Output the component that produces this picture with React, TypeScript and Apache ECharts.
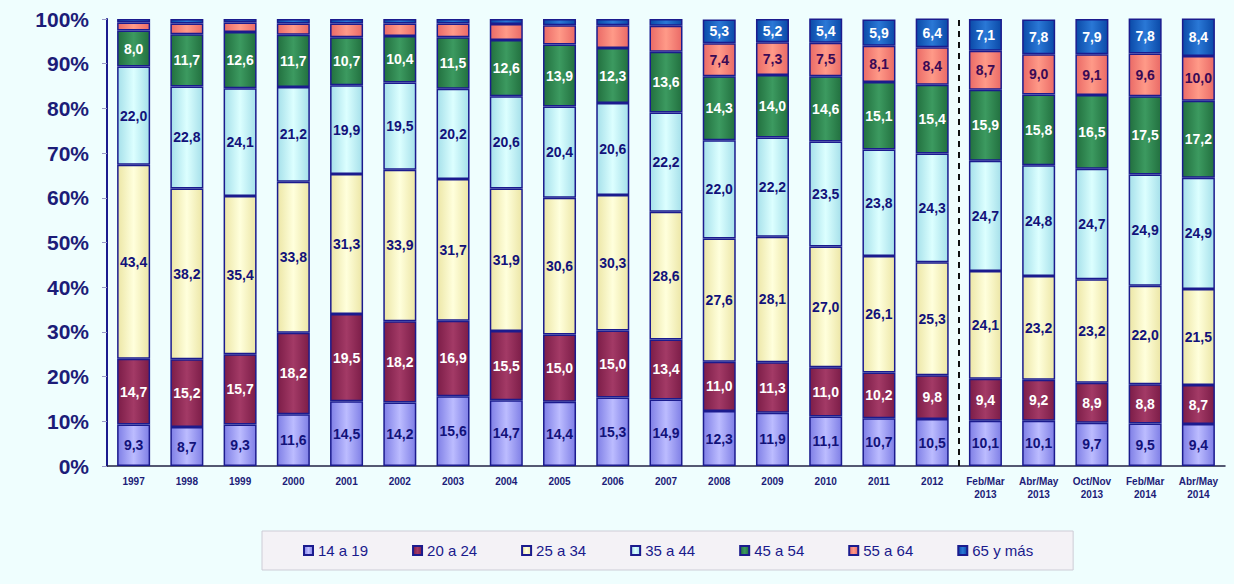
import React, { useEffect, useRef } from "react";
import * as echarts from "echarts";

const categories = [
  "1997", "1998", "1999", "2000", "2001", "2002", "2003", "2004", "2005", "2006",
  "2007", "2008", "2009", "2010", "2011", "2012",
  "Feb/Mar\n2013", "Abr/May\n2013", "Oct/Nov\n2013", "Feb/Mar\n2014", "Abr/May\n2014",
];

const seriesNames = ["14 a 19", "20 a 24", "25 a 34", "35 a 44", "45 a 54", "55 a 64", "65 y más"];

const s14_19 = [9.3, 8.7, 9.3, 11.6, 14.5, 14.2, 15.6, 14.7, 14.4, 15.3, 14.9, 12.3, 11.9, 11.1, 10.7, 10.5, 10.1, 10.1, 9.7, 9.5, 9.4];
const s20_24 = [14.7, 15.2, 15.7, 18.2, 19.5, 18.2, 16.9, 15.5, 15.0, 15.0, 13.4, 11.0, 11.3, 11.0, 10.2, 9.8, 9.4, 9.2, 8.9, 8.8, 8.7];
const s25_34 = [43.4, 38.2, 35.4, 33.8, 31.3, 33.9, 31.7, 31.9, 30.6, 30.3, 28.6, 27.6, 28.1, 27.0, 26.1, 25.3, 24.1, 23.2, 23.2, 22.0, 21.5];
const s35_44 = [22.0, 22.8, 24.1, 21.2, 19.9, 19.5, 20.2, 20.6, 20.4, 20.6, 22.2, 22.0, 22.2, 23.5, 23.8, 24.3, 24.7, 24.8, 24.7, 24.9, 24.9];
const s45_54 = [8.0, 11.7, 12.6, 11.7, 10.7, 10.4, 11.5, 12.6, 13.9, 12.3, 13.6, 14.3, 14.0, 14.6, 15.1, 15.4, 15.9, 15.8, 16.5, 17.5, 17.2];
const s55_64 = [1.8, 2.4, 2.1, 2.5, 3.1, 2.8, 3.1, 3.6, 4.3, 5.1, 5.8, 7.4, 7.3, 7.5, 8.1, 8.4, 8.7, 9.0, 9.1, 9.6, 10.0];
const s65 = [0.8, 1.0, 0.8, 1.0, 1.0, 1.0, 1.0, 1.1, 1.4, 1.4, 1.5, 5.3, 5.2, 5.4, 5.9, 6.4, 7.1, 7.8, 7.9, 7.8, 8.4];

// first category index whose 55-64 / 65+ values are printed
const firstLabelledOld = 11;
const dividerAt = 16;

const allSeries = [s14_19, s20_24, s25_34, s35_44, s45_54, s55_64, s65];

const palette = [
  { edge: "#7f7fe6", mid: "#bcbcff", text: "#12127a" },
  { edge: "#7c1d48", mid: "#a33a66", text: "#ffffff" },
  { edge: "#ece6a6", mid: "#ffffdc", text: "#12127a" },
  { edge: "#a6e0ea", mid: "#dcffff", text: "#12127a" },
  { edge: "#22703f", mid: "#3c9a60", text: "#ffffff" },
  { edge: "#ea6a66", mid: "#ff9a88", text: "#3a0a55" },
  { edge: "#0b4aa8", mid: "#2a78d6", text: "#ffffff" },
];

const FONT = "'Liberation Sans', Arial, Helvetica, sans-serif";

export default function App() {
  const ref = useRef<HTMLDivElement>(null);

  useEffect(() => {
    if (!ref.current) return;
    const chart = echarts.init(ref.current, null, { renderer: "svg" });

    const bars = allSeries.map((vals, si) => {
      const p = palette[si];
      return {
        name: seriesNames[si],
        type: "bar",
        stack: "total",
        barWidth: "62%",
        data: vals,
        itemStyle: {
          color: new echarts.graphic.LinearGradient(0, 0, 1, 0, [
            { offset: 0, color: p.edge },
            { offset: 0.5, color: p.mid },
            { offset: 1, color: p.edge },
          ]),
          borderColor: "#1b1b8e",
          borderWidth: 1.5,
        },
        label: {
          show: true,
          position: "inside",
          color: p.text,
          fontFamily: FONT,
          fontWeight: "bold",
          fontSize: 14,
          formatter: (prm: any) => {
            if (si >= 5 && prm.dataIndex < firstLabelledOld) return "";
            return Number(prm.value).toFixed(1).replace(".", ",");
          },
        },
      };
    });

    const option: any = {
      animation: false,
      backgroundColor: "#effefe",
      grid: { left: 107, right: 9, top: 19, bottom: 118 },
      legend: {
        data: seriesNames,
        left: 262,
        top: 531,
        orient: "horizontal",
        itemWidth: 9,
        itemHeight: 9,
        itemGap: 44,
        icon: "rect",
        padding: [12, 40, 12, 41],
        backgroundColor: "#f4f2f6",
        borderColor: "#cdccd6",
        borderWidth: 1,
        textStyle: { color: "#1a1a8c", fontFamily: FONT, fontSize: 15 },
      },
      xAxis: [
        {
          type: "category",
          data: categories,
          axisLine: { show: true, lineStyle: { color: "#222244", width: 1.5 } },
          axisTick: { show: false },
          axisLabel: {
            color: "#1c1c78",
            fontFamily: FONT,
            fontWeight: "bold",
            fontSize: 10,
            lineHeight: 13,
            margin: 9,
            interval: 0,
          },
        },
        { type: "value", min: 0, max: 21, show: false },
      ],
      yAxis: {
        type: "value",
        min: 0,
        max: 100,
        interval: 10,
        axisLine: { show: true, lineStyle: { color: "#1b1b8e", width: 2 } },
        axisTick: { show: true, length: 5, lineStyle: { color: "#9a9ac8" } },
        splitLine: { show: false },
        axisLabel: {
          formatter: "{value}%",
          color: "#1c1c78",
          fontFamily: FONT,
          fontWeight: "bold",
          fontSize: 21,
          margin: 18,
        },
      },
      series: [
        ...bars,
        {
          name: "divider",
          type: "line",
          xAxisIndex: 1,
          data: [[dividerAt, 0]],
          symbol: "none",
          lineStyle: { opacity: 0 },
          silent: true,
          markLine: {
            silent: true,
            symbol: ["none", "none"],
            label: { show: false },
            lineStyle: { color: "#111111", type: [6, 5], width: 2 },
            data: [{ xAxis: dividerAt }],
          },
        },
      ],
    };

    chart.setOption(option);
    return () => chart.dispose();
  }, []);

  return (
    <div
      ref={ref}
      style={{ position: "fixed", left: 0, top: 0, width: 1234, height: 584 }}
    />
  );
}
